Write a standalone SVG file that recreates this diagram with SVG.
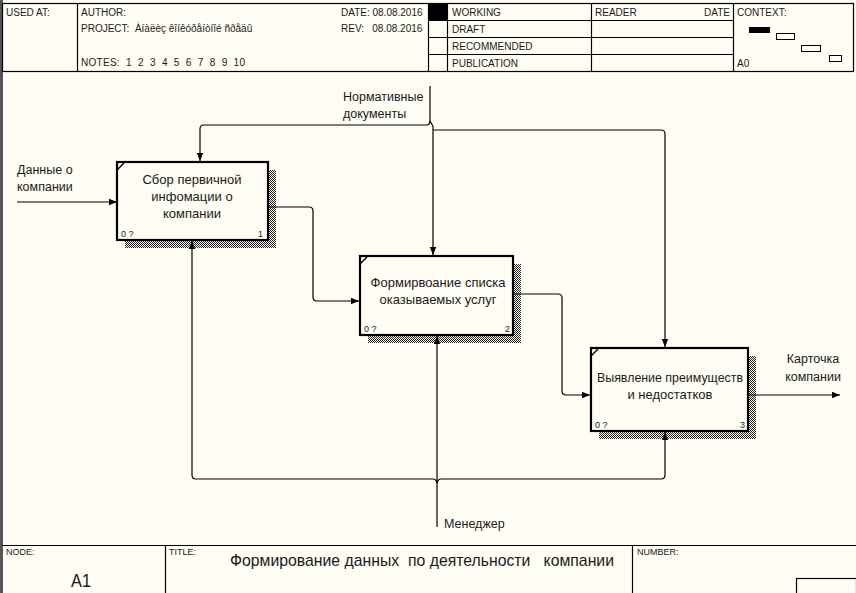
<svg xmlns="http://www.w3.org/2000/svg" width="856" height="593" viewBox="0 0 856 593">
<defs>
<pattern id="hatch" width="2" height="2" patternUnits="userSpaceOnUse">
<rect width="2" height="2" fill="#fffdf4"/>
<rect x="0" y="0" width="1" height="1" fill="#222"/>
<rect x="1" y="1" width="1" height="1" fill="#222"/>
</pattern>
<marker id="arr" viewBox="0 0 10 10" refX="10" refY="5" markerWidth="8" markerHeight="8" markerUnits="userSpaceOnUse" orient="auto">
<path d="M0,1 L10,5 L0,9 Z" fill="#000"/>
</marker>
<style>
.hd{font-family:"Liberation Sans",Arial,sans-serif;font-size:10px;fill:#1a1a1a;white-space:pre}
.bx{font-family:"Liberation Sans",Arial,sans-serif;font-size:13px;fill:#1a1a1a;text-anchor:middle}
.lb{font-family:"Liberation Sans",Arial,sans-serif;font-size:12.5px;fill:#1a1a1a}
.sm{font-family:"Liberation Sans",Arial,sans-serif;font-size:9px;fill:#1a1a1a}
.ln{fill:none;stroke:#000;stroke-width:1.2}
.fr{fill:none;stroke:#000;stroke-width:1.2}
.box{fill:#fffdf4;stroke:#000;stroke-width:2.2}
.sh{fill:url(#hatch)}
</style>
</defs>
<rect width="856" height="593" fill="#fffdf4"/>
<rect x="0" y="0" width="3" height="593" fill="#555"/>
<g id="header">
<rect class="fr" x="2.5" y="3.5" width="851" height="68"/>
<line class="fr" x1="77.5" y1="3.5" x2="77.5" y2="71.5"/>
<line class="fr" x1="428.5" y1="3.5" x2="428.5" y2="71.5"/>
<line class="fr" x1="447.5" y1="3.5" x2="447.5" y2="71.5"/>
<line class="fr" x1="591.5" y1="3.5" x2="591.5" y2="71.5"/>
<line class="fr" x1="733.5" y1="3.5" x2="733.5" y2="71.5"/>
<line class="fr" x1="428.5" y1="20.5" x2="733.5" y2="20.5"/>
<line class="fr" x1="428.5" y1="37.5" x2="733.5" y2="37.5"/>
<line class="fr" x1="428.5" y1="54.5" x2="733.5" y2="54.5"/>
<rect x="428.5" y="3.5" width="19" height="17" fill="#000"/>
<text class="hd" x="6" y="16">USED AT:</text>
<text class="hd" x="81" y="16">AUTHOR:</text>
<text class="hd" x="81" y="32">PROJECT:  Àíàëèç êîíêóðåíòíîé ñðåäû</text>
<text class="hd" x="81" y="66" textLength="164" lengthAdjust="spacing">NOTES:  1  2  3  4  5  6  7  8  9  10</text>
<text class="hd" x="341" y="16">DATE: 08.08.2016</text>
<text class="hd" x="341" y="32">REV:   08.08.2016</text>
<text class="hd" x="452" y="16">WORKING</text>
<text class="hd" x="452" y="33">DRAFT</text>
<text class="hd" x="452" y="50">RECOMMENDED</text>
<text class="hd" x="452" y="67">PUBLICATION</text>
<text class="hd" x="595" y="16">READER</text>
<text class="hd" x="730" y="16" text-anchor="end">DATE</text>
<text class="hd" x="737" y="16">CONTEXT:</text>
<text class="hd" x="737" y="67">A0</text>
<rect x="749" y="27" width="21" height="6" fill="#000"/>
<rect x="776.5" y="33.5" width="18" height="6" fill="none" stroke="#000" stroke-width="1"/>
<rect x="801.5" y="45.5" width="19" height="6" fill="none" stroke="#000" stroke-width="1"/>
<rect x="829.5" y="55.5" width="12" height="6" fill="none" stroke="#000" stroke-width="1"/>
</g>
<g id="footer">
<line class="fr" x1="2" y1="545.5" x2="856" y2="545.5"/>
<line class="fr" x1="165.5" y1="545.5" x2="165.5" y2="593"/>
<line class="fr" x1="632.5" y1="545.5" x2="632.5" y2="593"/>
<rect class="fr" x="796.5" y="578.5" width="60" height="20"/>
<text class="sm" x="6" y="555">NODE:</text>
<text style="font-family:'Liberation Sans',Arial,sans-serif;font-size:19px;fill:#1a1a1a" x="71" y="587" textLength="20" lengthAdjust="spacingAndGlyphs">A1</text>
<text class="sm" x="169" y="555">TITLE:</text>
<text style="font-family:'Liberation Sans',Arial,sans-serif;font-size:17px;fill:#1a1a1a;white-space:pre" x="230" y="566" textLength="384" lengthAdjust="spacingAndGlyphs">Формирование данных  по деятельности   компании</text>
<text class="sm" x="637" y="555">NUMBER:</text>
</g>
<g id="node1">
<rect class="sh" x="125" y="170" width="151" height="78"/>
<rect class="box" x="117" y="162" width="151" height="78"/>
<line x1="117" y1="170" x2="124" y2="163" stroke="#000" stroke-width="1.5"/>
<text class="bx" x="192" y="184">Сбор первичной</text>
<text class="bx" x="192" y="201">инфомации о</text>
<text class="bx" x="192" y="218">компании</text>
<text class="sm" x="121" y="237">0 ?</text>
<text class="sm" x="263" y="237" text-anchor="end">1</text>
</g>
<g id="node2">
<rect class="sh" x="368" y="264" width="153" height="79"/>
<rect class="box" x="360" y="256" width="153" height="79"/>
<line x1="360" y1="264" x2="367" y2="257" stroke="#000" stroke-width="1.5"/>
<text class="bx" x="438" y="287">Формирвоание списка</text>
<text class="bx" x="438" y="304">оказываемых услуг</text>
<text class="sm" x="364" y="332">0 ?</text>
<text class="sm" x="510" y="332" text-anchor="end">2</text>
</g>
<g id="node3">
<rect class="sh" x="599" y="356" width="157" height="83"/>
<rect class="box" x="591" y="348" width="157" height="83"/>
<line x1="591" y1="356" x2="598" y2="349" stroke="#000" stroke-width="1.5"/>
<text class="bx" x="670" y="382" textLength="146" lengthAdjust="spacingAndGlyphs">Выявление преимуществ</text>
<text class="bx" x="670" y="399">и недостатков</text>
<text class="sm" x="595" y="428">0 ?</text>
<text class="sm" x="745" y="428" text-anchor="end">3</text>
</g>
<g id="connectors">
<line class="ln" x1="17" y1="202" x2="117" y2="202" marker-end="url(#arr)"/>
<path class="ln" d="M430,86 V121 Q430,125 426,125 H204 Q200,125 200,129 V161" marker-end="url(#arr)"/>
<path class="ln" d="M430,121 Q431,123 433,126 V255" marker-end="url(#arr)"/>
<path class="ln" d="M433,130 H661 Q665,130 665,134 V347" marker-end="url(#arr)"/>
<path class="ln" d="M269,207 H309 Q313,207 313,211 V297 Q313,301 317,301 H359" marker-end="url(#arr)"/>
<path class="ln" d="M514,294 H558 Q562,294 562,298 V391 Q562,395 566,395 H590" marker-end="url(#arr)"/>
<line class="ln" x1="749" y1="395" x2="840" y2="395" marker-end="url(#arr)"/>
<path class="ln" d="M437,527 V336" marker-end="url(#arr)"/>
<path class="ln" d="M437,483 Q436,479 433,479 H196 Q192,479 192,475 V241" marker-end="url(#arr)"/>
<path class="ln" d="M437,483 Q438,479 441,479 H661 Q665,479 665,475 V432" marker-end="url(#arr)"/>
<text class="lb" x="17" y="174">Данные о</text>
<text class="lb" x="17" y="191">компании</text>
<text class="lb" x="343" y="101">Нормативные</text>
<text class="lb" x="343" y="118">документы</text>
<text class="lb" x="813" y="363" text-anchor="middle">Карточка</text>
<text class="lb" x="813" y="381" text-anchor="middle">компании</text>
<text class="lb" x="444" y="528">Менеджер</text>
</g>
</svg>
